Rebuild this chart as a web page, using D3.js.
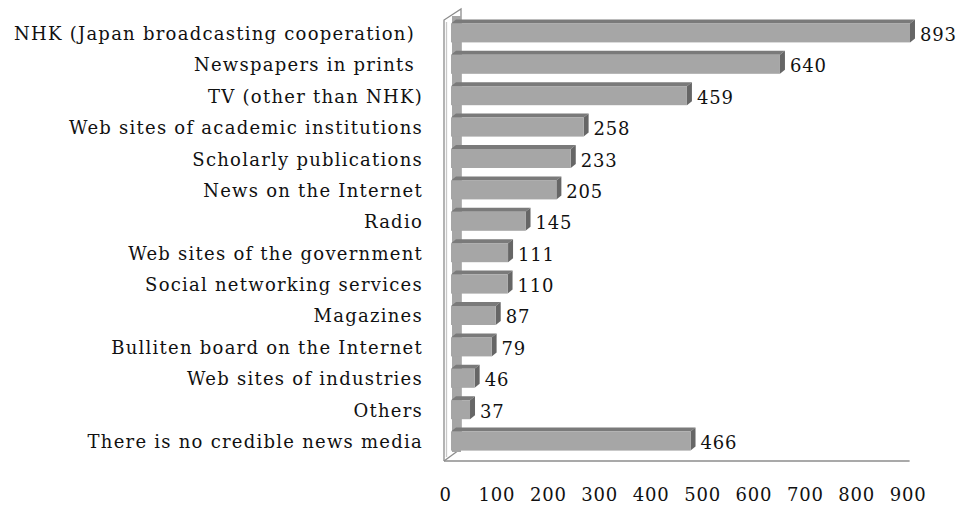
<!DOCTYPE html>
<html>
<head>
<meta charset="utf-8">
<script src="https://cdn.jsdelivr.net/npm/d3@7"></script>
<style>
  body { margin: 0; background: #fff; }
  text { font-family: "DejaVu Serif", "Liberation Serif", serif; fill: #111; }
</style>
</head>
<body>
<div id="chart-area"></div>
<script>
var categories = [
  'NHK (Japan broadcasting cooperation)',
  'Newspapers in prints',
  'TV (other than NHK)',
  'Web sites of academic institutions',
  'Scholarly publications',
  'News on the Internet',
  'Radio',
  'Web sites of the government',
  'Social networking services',
  'Magazines',
  'Bulliten board on the Internet',
  'Web sites of industries',
  'Others',
  'There is no credible news media'
]
var values = [893, 640, 459, 258, 233, 205, 145, 111, 110, 87, 79, 46, 37, 466]
var tickValues = [0, 100, 200, 300, 400, 500, 600, 700, 800, 900]

var width = 962, height = 509
var floorX = 444, barX = 451     // front edge of floor, front face of bars
var depthX = 5, depthY = 4

var svg = d3.select('#chart-area')
  .append('svg')
  .attr('width', width)
  .attr('height', height)

var x = d3.scaleLinear()
  .domain([0, 900])
  .range([0, 462.6])

var y = d3.scaleBand()
  .domain(categories)
  .range([11, 463])
  .padding(0.395)

var data = categories.map(function(c, i) {
  return { name: c, value: values[i] }
})

// side wall + floor lines
var wall = svg.append('g')
  .attr('fill', 'none')
  .attr('stroke', '#8c8c8c')
  .attr('stroke-width', 1.3)

// strip of the wall visible between bars
svg.append('rect')
  .attr('x', 452)
  .attr('y', 16)
  .attr('width', 9)
  .attr('height', 436)
  .attr('fill', '#a6a6a6')

wall.append('path')
  .attr('d', 'M' + floorX + ',461 V20 L461,9 V450')
wall.append('path')
  .attr('d', 'M446.5,22 V457')
  .attr('stroke', '#c8c8c8')
wall.append('path')
  .attr('d', 'M' + floorX + ',461 L459,450')
wall.append('path')
  .attr('d', 'M' + floorX + ',461 H' + (floorX + x(900) + 3))

var bars = svg.selectAll('g.bar').data(data)
  .enter()
  .append('g')
  .attr('class', 'bar')

// top face
bars.append('path')
  .attr('fill', '#7a7a7a')
  .attr('d', function(d) {
    var y0 = y(d.name), x1 = barX + x(d.value)
    return 'M' + barX + ',' + y0 + ' L' + (barX + depthX) + ',' + (y0 - depthY) +
      ' H' + (x1 + depthX) + ' L' + x1 + ',' + y0 + 'Z'
  })

// right side face
bars.append('path')
  .attr('fill', '#666')
  .attr('d', function(d) {
    var y0 = y(d.name), x1 = barX + x(d.value), h = y.bandwidth()
    return 'M' + x1 + ',' + y0 + ' L' + (x1 + depthX) + ',' + (y0 - depthY) +
      ' V' + (y0 + h - depthY) + ' L' + x1 + ',' + (y0 + h) + 'Z'
  })

// front face
bars.append('rect')
  .attr('x', barX)
  .attr('y', function(d) { return y(d.name) })
  .attr('width', function(d) { return x(d.value) })
  .attr('height', y.bandwidth())
  .attr('fill', '#a6a6a6')

// value labels
bars.append('text')
  .attr('x', function(d) { return barX + x(d.value) + 10 })
  .attr('y', function(d) { return y(d.name) + y.bandwidth() / 2 + 8 })
  .attr('font-size', 18)
  .attr('letter-spacing', 0.8)
  .text(function(d) { return d.value })

// category labels
svg.selectAll('text.cat').data(categories)
  .enter()
  .append('text')
  .attr('class', 'cat')
  .attr('x', function(d, i) { return i < 2 ? 415 : 423 })
  .attr('y', function(d) { return y(d) + y.bandwidth() / 2 + 7 })
  .attr('text-anchor', 'end')
  .attr('font-size', 18)
  .attr('letter-spacing', 1.25)
  .text(function(d) { return d })

// value axis labels
var axis = d3.axisBottom(x)
  .tickValues(tickValues)
  .tickSize(0)
  .tickPadding(0)

var ag = svg.append('g')
  .attr('transform', 'translate(' + (floorX + 1) + ',488)')
  .call(axis)
ag.select('.domain').remove()
ag.selectAll('text')
  .attr('font-size', 18)
  .attr('letter-spacing', 0.8)
  .attr('font-family', '"DejaVu Serif", serif')
  .attr('fill', '#111')
</script>
</body>
</html>
